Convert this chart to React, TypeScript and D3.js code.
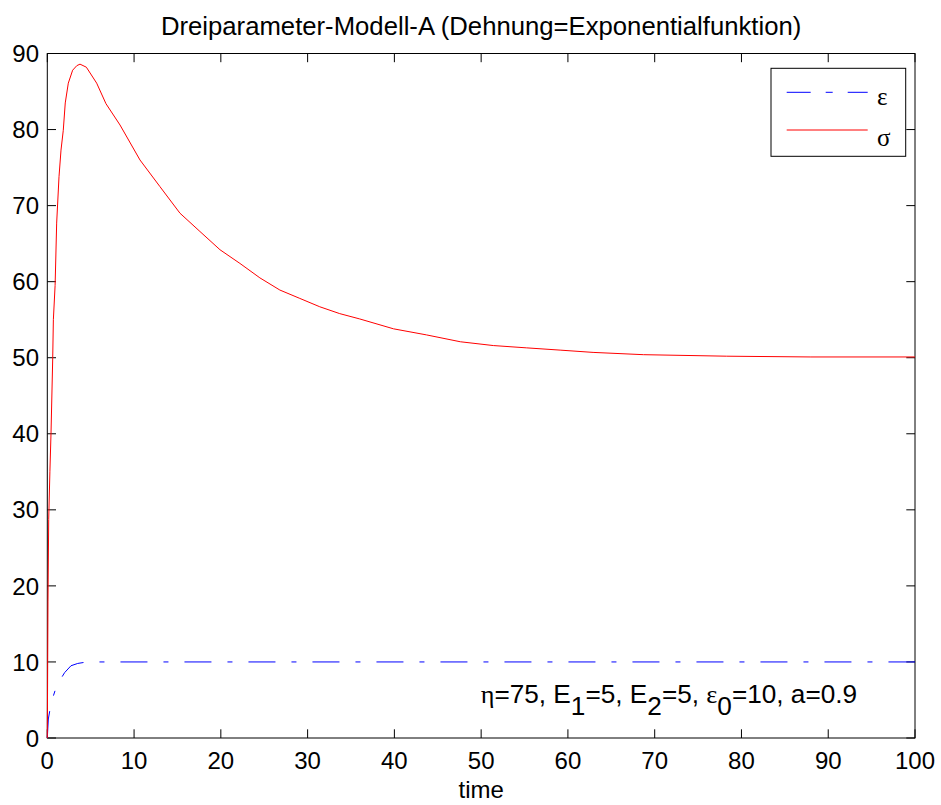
import React from "react";
import * as d3 from "d3";

// Stress response sigma(t) of the three-parameter model
const sigmaTime = [0, 0.08, 0.16, 0.3, 0.43, 0.62, 0.7, 0.9, 1.08, 1.35, 1.58, 1.84, 2.07, 2.42, 2.92, 3.4, 3.77, 4.5, 5.69, 6.76, 8.38, 10.68, 12.98, 15.29, 17.59, 19.9, 22.2, 24.5, 26.8, 29.1, 31.4, 33.7, 36.0, 39.9, 43.7, 47.6, 51.4, 55.2, 59.1, 62.9, 68.7, 78.3, 88, 100];
const sigmaValues = [0, 18, 28.7, 35, 40.1, 49.7, 55, 59.5, 67.7, 73.8, 77.3, 79.9, 83.5, 86.1, 87.8, 88.4, 88.6, 88.2, 86.1, 83.4, 80.6, 76.0, 72.5, 69.0, 66.6, 64.2, 62.4, 60.5, 58.9, 57.8, 56.7, 55.8, 55.1, 53.8, 53.0, 52.1, 51.6, 51.3, 51.0, 50.7, 50.4, 50.2, 50.1, 50.1];

// Imposed strain epsilon(t)
const epsTime = [0, 0.12, 0.35, 0.69, 1.0, 1.46, 2.0, 2.73, 3.5, 4.3, 6, 100];
const epsValues = [0, 2.5, 4.0, 5.5, 6.6, 7.6, 8.6, 9.5, 9.8, 9.95, 10, 10];

const xTicks = [0, 10, 20, 30, 40, 50, 60, 70, 80, 90, 100];
const yTicks = [0, 10, 20, 30, 40, 50, 60, 70, 80, 90];

const legendLabels = ["ε", "σ"];

const W = 941;
const H = 805;
const left = 47.3;
const right = 915;
const top = 53.5;
const bottom = 738;
const tickLen = 8.7;
const sans = "'Liberation Sans', Arial, Helvetica, sans-serif";
const serif = "'Liberation Serif', 'Times New Roman', serif";

export default function App() {
  const x = d3.scaleLinear().domain([0, 100]).range([left, right]);
  const y = d3.scaleLinear().domain([0, 90]).range([bottom, top]);
  const line = d3
    .line<[number, number]>()
    .x((d) => x(d[0]))
    .y((d) => y(d[1]));

  const sigmaPts = sigmaTime.map((t, i) => [t, sigmaValues[i]] as [number, number]);
  const epsPts = epsTime.map((t, i) => [t, epsValues[i]] as [number, number]);

  const dash = "27,16,5,16";

  const lgX0 = 771;
  const lgY0 = 68.3;
  const lgW = 134.7;
  const lgH = 88;

  return (
    <svg
      width={W}
      height={H}
      style={{ position: "absolute", left: 0, top: 0, display: "block", background: "#fff" }}
    >
      <rect x={0} y={0} width={W} height={H} fill="#fff" />
      {/* title */}
      <text x={(left + right) / 2} y={35} textAnchor="middle" fontFamily={sans} fontSize={25.7} fill="#000">
        Dreiparameter-Modell-A (Dehnung=Exponentialfunktion)
      </text>

      {/* axes box */}
      <rect x={left} y={top} width={right - left} height={bottom - top} fill="#fff" stroke="#000" strokeWidth={1} />

      {/* x ticks */}
      {xTicks.map((t) => (
        <g key={"x" + t}>
          <line x1={x(t)} x2={x(t)} y1={bottom} y2={bottom - tickLen} stroke="#000" />
          <line x1={x(t)} x2={x(t)} y1={top} y2={top + tickLen} stroke="#000" />
          <text x={x(t)} y={768.5} textAnchor="middle" fontFamily={sans} fontSize={24} fill="#000">
            {t}
          </text>
        </g>
      ))}
      {/* y ticks */}
      {yTicks.map((t) => (
        <g key={"y" + t}>
          <line x1={left} x2={left + tickLen} y1={y(t)} y2={y(t)} stroke="#000" />
          <line x1={right} x2={right - tickLen} y1={y(t)} y2={y(t)} stroke="#000" />
          <text x={39} y={y(t)} dy="0.36em" textAnchor="end" fontFamily={sans} fontSize={24} fill="#000">
            {t}
          </text>
        </g>
      ))}

      {/* x label */}
      <text x={(left + right) / 2} y={798} textAnchor="middle" fontFamily={sans} fontSize={24} fill="#000">
        time
      </text>

      {/* series */}
      <path d={line(epsPts) ?? ""} fill="none" stroke="#0000ff" strokeWidth={1} strokeDasharray={dash} />
      <path d={line(sigmaPts) ?? ""} fill="none" stroke="#ff0000" strokeWidth={1} />

      {/* parameter annotation */}
      <text x={480.7} y={703.3} fontFamily={sans} fontSize={26.2} fill="#000">
        <tspan fontFamily={serif}>η</tspan>
        <tspan>=75, E</tspan>
        <tspan dy={12}>1</tspan>
        <tspan dy={-12}>=5, E</tspan>
        <tspan dy={12}>2</tspan>
        <tspan dy={-12}>=5, </tspan>
        <tspan fontFamily={serif}>ε</tspan>
        <tspan dy={12}>0</tspan>
        <tspan dy={-12}>=10, a=0.9</tspan>
      </text>

      {/* legend */}
      <rect x={lgX0} y={lgY0} width={lgW} height={lgH} fill="#fff" stroke="#000" strokeWidth={1} />
      <line x1={786.7} x2={867.7} y1={92.3} y2={92.3} stroke="#0000ff" strokeWidth={1} strokeDasharray="24,15,7,15" />
      <line x1={786.7} x2={867.7} y1={130} y2={130} stroke="#ff0000" strokeWidth={1} />
      <text x={877} y={105} fontFamily={serif} fontSize={25} fill="#000">
        {legendLabels[0]}
      </text>
      <text x={877} y={146} fontFamily={serif} fontSize={25} fill="#000">
        {legendLabels[1]}
      </text>
    </svg>
  );
}
